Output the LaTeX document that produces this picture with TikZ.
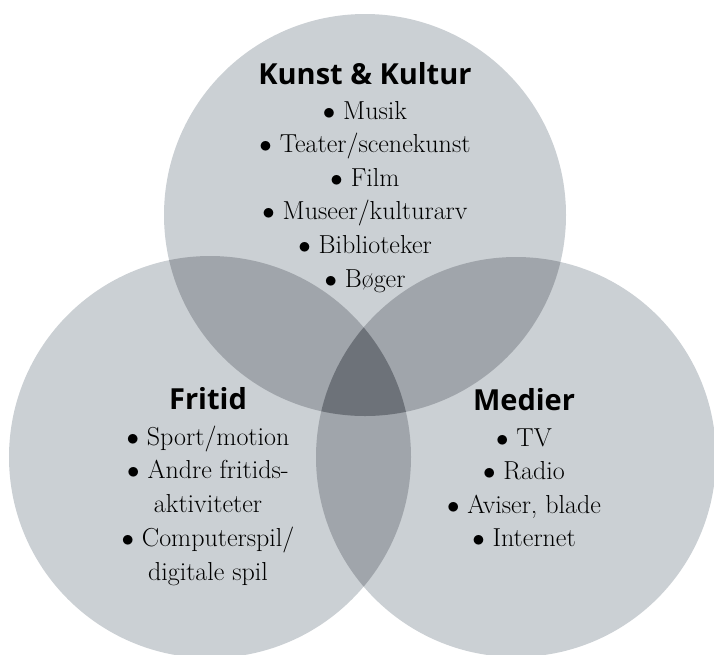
\documentclass[tikz,border=0pt]{standalone}
\usepackage{fontspec}
\newfontfamily\titelfont{Open Sans}
\definecolor{lys}{RGB}{203,208,212}
\definecolor{mellem}{RGB}{160,165,171}
\definecolor{mork}{RGB}{109,114,121}
\newcommand{\pkt}{$\bullet$\ }
\tikzset{
	titel/.style={font=\titelfont\bfseries\fontsize{29}{29}\selectfont, anchor=base, inner sep=0pt},
	punkt/.style={font=\fontsize{26}{26}\selectfont, anchor=base, inner sep=0pt}
}
\begin{document}
\begin{tikzpicture}[x=1pt,y=-1pt]
	\useasboundingbox (0,0) rectangle (714,654);
	
	%Cirkler
	\def\K{(365,215) circle[radius=201pt]}
	\def\F{(210,457) circle[radius=201pt]}
	\def\M{(516,457) circle[radius=200pt]}
	\fill[lys] \K;
	\fill[lys] \F;
	\fill[lys] \M;
	%---------overlap to og to
	\begin{scope}
		\clip \K;
		\fill[mellem] \F;
		\fill[mellem] \M;
	\end{scope}
	\begin{scope}
		\clip \F;
		\fill[mellem] \M;
	\end{scope}
	%---------midten
	\begin{scope}
		\clip \K;
		\clip \F;
		\fill[mork] \M;
	\end{scope}
	
	%Kunst & Kultur
	\node[titel] (kunst) at (365,84) {Kunst \& Kultur};
	\node[punkt] (musik) at (365,119) {\pkt Musik};
	\node[punkt] (teater) at (365,152.6) {\pkt Teater/scenekunst};
	\node[punkt] (film) at (365,186.2) {\pkt Film};
	\node[punkt] (museer) at (365,219.8) {\pkt Museer/kulturarv};
	\node[punkt] (bibl) at (365,253.4) {\pkt Biblioteker};
	\node[punkt] (boger) at (365,287) {\pkt Bøger};
	
	%Fritid
	\node[titel] (fritid) at (208,409) {Fritid};
	\node[punkt] (sport) at (208,445) {\pkt Sport/motion};
	\node[punkt] (andre) at (208,478.5) {\pkt Andre fritids-};
	\node[punkt] (aktiv) at (208,512) {aktiviteter};
	\node[punkt] (comp) at (208,546) {\pkt Computerspil/};
	\node[punkt] (digi) at (208,580) {digitale spil};
	
	%Medier
	\node[titel] (medier) at (524,410) {Medier};
	\node[punkt] (tv) at (524,446.5) {\pkt TV};
	\node[punkt] (radio) at (524,479.5) {\pkt Radio};
	\node[punkt] (aviser) at (524,513) {\pkt Aviser, blade};
	\node[punkt] (internet) at (524,546.5) {\pkt Internet};
\end{tikzpicture}
\end{document}
